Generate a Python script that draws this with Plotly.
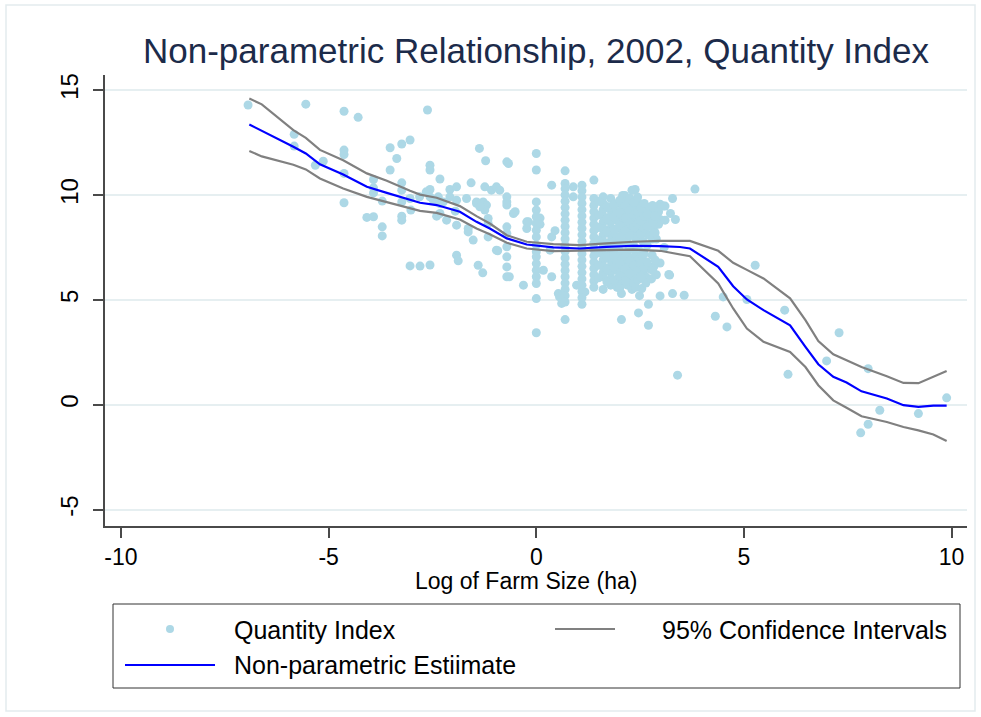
import plotly.graph_objects as go

# ---------------- data ----------------
title_text = "Non-parametric Relationship, 2002, Quantity Index"
x_title = "Log of Farm Size (ha)"
x_ticks = [-10, -5, 0, 5, 10]
y_ticks = [-5, 0, 5, 10, 15]

# kernel estimate and confidence bands
fit_x = [-6.91, -6.61, -5.85, -5.55, -5.21, -4.65, -4.08, -3.60, -3.04, -2.80, -2.40, -1.84,
         -1.44, -1.12, -0.71, -0.23, 0.41, 1.05, 1.69, 2.33, 2.98, 3.46, 3.70, 4.38, 4.74,
         5.07, 5.47, 6.11, 6.48, 6.79, 7.15, 7.47, 7.83, 8.44, 8.84, 9.20, 9.56, 9.88]
fit_est = [13.36, 13.07, 12.30, 11.98, 11.46, 10.98, 10.39, 10.10, 9.79, 9.63, 9.52, 9.20,
           8.72, 8.40, 7.93, 7.64, 7.50, 7.45, 7.53, 7.58, 7.56, 7.52, 7.45, 6.57, 5.65,
           5.02, 4.51, 3.79, 2.76, 1.93, 1.33, 1.06, 0.64, 0.30, -0.02, -0.10, -0.04, -0.04]
ci_upper = [14.60, 14.32, 13.09, 12.72, 12.15, 11.66, 11.03, 10.68, 10.20, 10.02, 9.87, 9.47,
            8.99, 8.64, 8.08, 7.77, 7.66, 7.61, 7.69, 7.77, 7.81, 7.81, 7.81, 7.34, 6.77,
            6.43, 6.02, 5.07, 4.03, 3.04, 2.41, 2.12, 1.80, 1.36, 1.04, 1.03, 1.34, 1.61]
ci_lower = [12.10, 11.84, 11.44, 11.22, 10.79, 10.31, 9.91, 9.67, 9.36, 9.24, 9.15, 8.83,
            8.40, 8.13, 7.72, 7.45, 7.32, 7.34, 7.37, 7.40, 7.34, 7.18, 7.08, 5.78, 4.59,
            3.63, 3.00, 2.52, 1.80, 0.93, 0.21, -0.14, -0.55, -0.82, -1.06, -1.22, -1.42, -1.73]

# scattered observations (x, y) outside the dense columns
sparse_x = [-6.94, -5.55, -4.63, -4.29, -5.83, -5.83, -4.63, -4.63, -3.52, -3.24, -3.04, -3.36,
            -3.52, -5.32, -5.13, -4.63, -3.92, -3.92, -3.92, -3.24, -3.24, -3.04, -4.63, -3.71,
            -4.08, -3.92, -3.24, -3.24, -3.71, -3.71, -3.04, -2.80, -2.56, -3.24, -3.02, -2.56,
            -2.56, -2.32, -2.56, -2.56, -2.48, -2.32, -2.08, -1.92, -2.08, -1.92, -1.68, -2.32,
            -2.16, -1.92, -1.92, -1.88, -1.64, -1.64, -1.52, -1.44, -1.57, -1.37, -1.22, -1.24,
            -1.08, -0.96, -0.88, -1.28, -1.20, -1.24, -1.16, -1.16, -0.96, -1.40, -1.29, -0.71,
            -0.67, -0.71, -0.71, -0.71, -0.71, -0.71, -0.71, -0.71, -0.71, -0.71, -0.65, -0.55,
            -0.51, -0.31, -0.23, -0.23, -2.81, -2.65, -2.36, -2.24, -1.95, -1.44, -1.36, -1.16,
            -0.93, -2.40, -2.62, -0.19,
            0.09, 0.09, 0.17, 0.37, 0.37, 0.33, 0.37, 0.45, 0.53, 0.56, 0.61, 1.17, 0.97, 0.89,
            0.89,
            5.27, 3.21, 4.50, 5.07, 4.31, 4.59, 3.40, 5.98, 7.29, 6.99, 6.06, 7.99, 8.27, 7.99,
            7.81, 9.20, 9.88, 3.82, 3.28, 2.98, 3.06, 3.23, 3.35, 2.98, 2.98, 2.98, 3.28, 3.56,
            2.70, 2.46, 2.05, 2.70, 2.05, 2.54, 2.79, 2.70, 2.30, 2.38, 2.54, 2.13, 2.33, 3.10,
            3.08, 3.10, 3.19]
sparse_y = [14.29, 14.33, 13.99, 13.70, 12.89, 12.33, 12.14, 11.93, 12.25, 12.43, 12.62, 11.74,
            11.19, 11.42, 11.61, 11.03, 10.74, 10.34, 10.10, 10.58, 10.23, 9.83, 9.63, 9.71,
            8.93, 8.96, 8.99, 8.80, 8.48, 8.05, 6.62, 6.61, 6.66, 9.67, 9.28, 11.42,
            11.19, 10.76, 10.26, 9.91, 9.75, 9.59, 10.26, 10.39, 9.91, 9.75, 9.83, 9.12,
            8.80, 8.56, 7.13, 6.86, 8.40, 8.24, 7.85, 9.67, 10.58, 12.22, 11.63, 10.39,
            10.23, 10.39, 10.23, 9.67, 9.52, 9.28, 8.88, 8.64, 7.37, 6.65, 6.29, 11.58,
            11.50, 9.91, 9.67, 9.52, 8.48, 8.17, 7.53, 7.05, 6.57, 6.10, 6.10, 9.12,
            9.20, 5.70, 8.72, 8.40, 9.91, 10.15, 9.91, 9.67, 9.23, 9.60, 9.44, 8.00,
            7.34, 8.99, 14.05, 8.72,
            8.90, 8.60, 6.41, 10.47, 8.00, 7.37, 6.10, 8.30, 5.30, 5.14, 4.83, 5.38, 5.70, 9.91,
            10.39,
            6.65, 6.18, 5.14, 5.02, 4.22, 3.71, 1.41, 4.51, 3.43, 2.09, 1.45, 1.72, -0.26, -0.93,
            -1.34, -0.42, 0.33, 10.28, 9.83, 9.56, 9.47, 9.12, 8.83, 8.83, 6.76, 5.19, 5.30, 5.22,
            4.79, 4.38, 4.06, 3.79, 5.30, 5.54, 7.13, 6.50, 6.41, 10.26, 9.44, 9.98, 10.23, 9.47,
            7.50, 8.80, 6.21]

# dense vertical columns of observations (whole and fractional hectares, log scale)
col_x = [0.0, 0.693, 1.099, 1.386, 1.609, 1.792, 1.946, 2.079, 2.197, 2.303, 2.398, 2.485,
         2.565, 2.639, 2.708, 2.773, 2.833, 2.890, 2.944,
         1.50, 1.70, 1.87, 2.01, 2.14, 2.25, 2.35, 2.44, 2.52, 2.60, 2.67, 2.80, 2.86]
col_y = [
    [11.98, 11.19, 9.67, 9.28, 8.96, 8.64, 8.32, 8.00, 7.61, 7.29, 7.05, 6.73, 6.41, 6.10, 5.78, 5.06, 3.43],
    [11.15, 10.55, 10.30, 10.00, 9.70, 9.40, 9.10, 8.80, 8.50, 8.20, 7.90, 7.60, 7.30, 7.00, 6.70, 6.40,
     6.10, 5.80, 5.50, 5.20, 4.90, 4.06],
    [10.47, 10.20, 9.90, 9.60, 9.30, 9.00, 8.70, 8.40, 8.10, 7.80, 7.50, 7.20, 6.90, 6.60, 6.30, 6.00,
     5.70, 5.40, 5.10, 4.79],
    [10.71, 9.83, 9.50, 9.20, 8.90, 8.60, 8.30, 8.00, 7.70, 7.40, 7.10, 6.80, 6.50, 6.20, 5.90, 5.60],
    [9.91, 9.60, 9.30, 9.00, 8.70, 8.40, 8.10, 7.80, 7.50, 7.20, 6.90, 6.60, 6.30, 6.10, 5.50],
    [9.83, 9.28, 9.00, 8.70, 8.40, 8.10, 7.80, 7.50, 7.20, 6.90, 6.60, 6.30, 6.00, 5.70],
    [9.60, 9.20, 8.80, 8.40, 8.00, 7.60, 7.20, 6.80, 6.40, 6.00, 5.60],
    [9.98, 9.40, 9.00, 8.60, 8.20, 7.80, 7.00, 6.60, 6.20, 5.80],
    [9.70, 9.30, 8.90, 8.50, 8.10, 7.70, 7.30, 6.90, 6.50, 6.10, 5.70],
    [10.23, 9.50, 9.00, 8.60, 8.20, 7.00, 6.00, 5.50],
    [9.30, 8.80, 8.40, 7.90, 7.20, 6.80, 6.20, 5.60],
    [9.60, 9.10, 8.60, 8.10, 7.00, 6.50, 6.00, 5.20],
    [8.90, 8.40, 7.80, 6.90, 6.30],
    [9.20, 8.70, 8.20, 6.70, 6.10, 5.80],
    [9.40, 8.60, 8.08],
    [9.00, 8.50, 6.00],
    [9.30, 8.30, 6.60],
    [8.90, 7.90, 6.20],
    [9.20, 8.60],
    [9.70, 9.05, 8.45, 7.85, 7.25, 6.65, 6.05],
    [9.45, 8.85, 8.25, 7.65, 7.05, 6.45, 5.85],
    [9.55, 8.95, 8.35, 7.75, 7.15, 6.55, 5.95],
    [9.75, 9.15, 8.55, 7.95, 7.35, 6.75, 6.15, 5.55],
    [9.50, 8.90, 8.30, 7.70, 7.10, 6.50, 5.90],
    [9.85, 9.25, 8.65, 8.05, 7.45, 6.85, 6.25],
    [9.65, 9.05, 8.45, 7.55, 6.65, 5.80],
    [9.90, 9.20, 8.60, 8.00, 7.40, 6.50, 5.95],
    [9.35, 8.75, 8.15, 7.30, 6.70, 6.10],
    [9.60, 9.00, 8.40, 7.20, 6.55],
    [9.10, 8.50, 7.60, 6.80],
    [9.50, 8.70, 7.90, 6.40],
    [9.00, 8.20, 6.90]
]

qi_x = list(sparse_x)
qi_y = list(sparse_y)
for cx, ys in zip(col_x, col_y):
    qi_x += [cx] * len(ys)
    qi_y += ys

# ---------------- figure ----------------
FONT = "Liberation Sans, Arial, sans-serif"
AXIS_COL = "#4a4a4a"
MARK_COL = "#ADD8E6"
CI_COL = "#808080"
EST_COL = "#0000FF"

fig = go.Figure()
fig.add_trace(go.Scatter(x=qi_x, y=qi_y, mode="markers", name="Quantity Index",
                         marker=dict(color=MARK_COL, size=9, line=dict(width=0)),
                         showlegend=False))
fig.add_trace(go.Scatter(x=fit_x, y=ci_upper, mode="lines", name="95% Confidence Intervals",
                         line=dict(color=CI_COL, width=2.2), showlegend=False))
fig.add_trace(go.Scatter(x=fit_x, y=ci_lower, mode="lines", name="95% Confidence Intervals",
                         line=dict(color=CI_COL, width=2.2), showlegend=False))
fig.add_trace(go.Scatter(x=fit_x, y=fit_est, mode="lines", name="Non-parametric Estiimate",
                         line=dict(color=EST_COL, width=2.2), showlegend=False))

L, R, T, B = 105, 14, 75, 191
W, H = 981, 717
PW, PH = W - L - R, H - T - B


def px(xp):
    return (xp - L) / PW


def py(yp):
    return (H - B - yp) / PH


shapes = []
annotations = []
# outer light frame
shapes.append(dict(type="rect", xref="paper", yref="paper", x0=px(6), x1=px(975), y0=py(711), y1=py(5),
                   line=dict(color="#E3EBEE", width=1.5), fillcolor="rgba(0,0,0,0)", layer="below"))
# legend box
shapes.append(dict(type="rect", xref="paper", yref="paper", x0=px(113), x1=px(960), y0=py(688), y1=py(604),
                   line=dict(color="#333333", width=1), fillcolor="rgba(0,0,0,0)"))
# legend key: marker
shapes.append(dict(type="circle", xref="paper", yref="paper", xsizemode="pixel", ysizemode="pixel",
                   xanchor=px(170), yanchor=py(629), x0=-4, x1=4, y0=-4, y1=4,
                   fillcolor=MARK_COL, line=dict(width=0)))
# legend key: CI line
shapes.append(dict(type="line", xref="paper", yref="paper", x0=px(555), x1=px(615), y0=py(629), y1=py(629),
                   line=dict(color=CI_COL, width=2.2)))
# legend key: estimate line
shapes.append(dict(type="line", xref="paper", yref="paper", x0=px(125), x1=px(215), y0=py(665), y1=py(665),
                   line=dict(color=EST_COL, width=2.2)))

leg_font = dict(family=FONT, size=25, color="#000000")
for txt, xx, yy in [("Quantity Index", 232, 630), ("95% Confidence Intervals", 660, 630),
                    ("Non-parametric Estiimate", 232, 665)]:
    annotations.append(dict(text=txt, xref="paper", yref="paper", x=px(xx), y=py(yy),
                            xanchor="left", yanchor="middle", showarrow=False, font=leg_font))

# x-axis title placed where the reference has it
annotations.append(dict(text=x_title, xref="paper", yref="paper", x=px(526), y=py(581),
                        xanchor="center", yanchor="middle", showarrow=False,
                        font=dict(family=FONT, size=23, color="#000000")))

fig.update_layout(
    width=W, height=H,
    margin=dict(l=L, r=R, t=T, b=B),
    paper_bgcolor="white", plot_bgcolor="white",
    font=dict(family=FONT, color="#000000"),
    title=dict(text=title_text, x=0.5, xref="paper", xanchor="center", y=1 - 51 / H, yanchor="middle",
               font=dict(family=FONT, size=35, color="#1C2B4A")),
    showlegend=False,
    shapes=shapes,
    annotations=annotations,
    xaxis=dict(range=[-10.385, 10.37], tickvals=x_ticks, ticktext=[str(v) for v in x_ticks],
               ticks="outside", ticklen=10, tickwidth=1.5, tickcolor=AXIS_COL,
               showline=True, linecolor=AXIS_COL, linewidth=1.5, showgrid=False, zeroline=False,
               tickfont=dict(family=FONT, size=23, color="#000000")),
    yaxis=dict(range=[-5.78, 15.72], tickvals=y_ticks, ticktext=[str(v) for v in y_ticks],
               tickangle=-90, ticks="outside", ticklen=10, tickwidth=1.5, tickcolor=AXIS_COL,
               ticklabelstandoff=6,
               showline=True, linecolor=AXIS_COL, linewidth=1.5, showgrid=True,
               gridcolor="#E6EFF1", gridwidth=2, zeroline=False,
               tickfont=dict(family=FONT, size=24, color="#000000")),
)

fig.write_html("out.html", config={"displayModeBar": False},
               post_script="document.body.style.margin='0px';")
